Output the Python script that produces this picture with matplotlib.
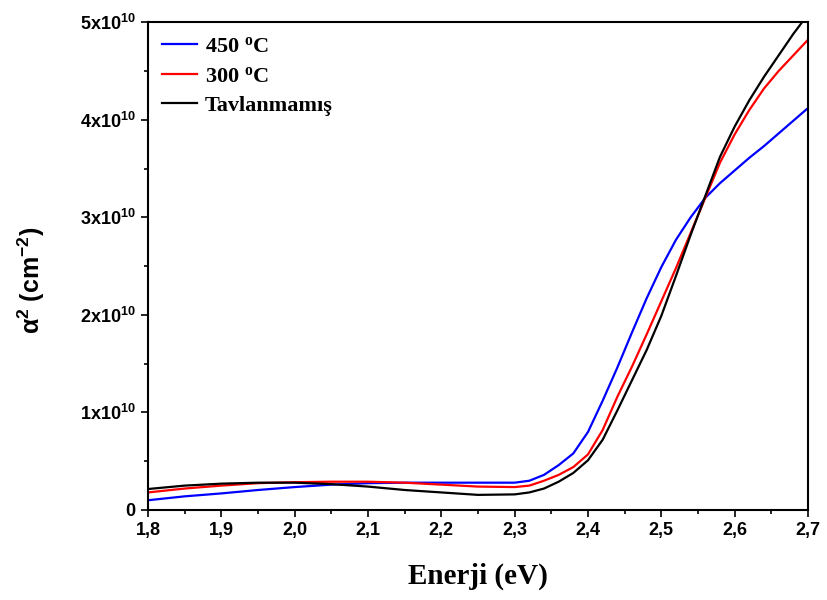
import matplotlib
matplotlib.use("Agg")
import matplotlib.pyplot as plt
from matplotlib.ticker import MultipleLocator, FuncFormatter
import numpy as np

energy = [1.80, 1.85, 1.90, 1.95, 2.00, 2.05, 2.10, 2.15, 2.20, 2.25, 2.30, 2.32, 2.34,
          2.36, 2.38, 2.40, 2.42, 2.44, 2.46, 2.48, 2.50, 2.52, 2.54, 2.56, 2.58, 2.60,
          2.62, 2.64, 2.66, 2.68, 2.70]

a450 = [0.10, 0.14, 0.17, 0.205, 0.235, 0.26, 0.275, 0.28, 0.28, 0.28, 0.28, 0.30, 0.36,
        0.46, 0.58, 0.80, 1.12, 1.46, 1.82, 2.17, 2.49, 2.77, 3.00, 3.20, 3.35, 3.48,
        3.61, 3.73, 3.86, 3.99, 4.12]

a300 = [0.18, 0.22, 0.25, 0.275, 0.285, 0.29, 0.29, 0.28, 0.26, 0.24, 0.235, 0.25, 0.30,
        0.36, 0.44, 0.57, 0.82, 1.16, 1.47, 1.80, 2.14, 2.48, 2.84, 3.20, 3.56, 3.85,
        4.10, 4.32, 4.50, 4.66, 4.82]

araw = [0.215, 0.25, 0.27, 0.28, 0.28, 0.265, 0.24, 0.205, 0.18, 0.155, 0.16, 0.18, 0.22,
        0.29, 0.38, 0.51, 0.72, 1.02, 1.33, 1.64, 1.99, 2.40, 2.82, 3.22, 3.62, 3.93,
        4.20, 4.44, 4.66, 4.88, 5.08]

labels = ["450 $^{\\mathregular{o}}$C", "300 $^{\\mathregular{o}}$C", "Tavlanmamış"]
colors = ["#0000ff", "#ff0000", "#000000"]

plt.rcParams['mathtext.default'] = 'regular'

fig = plt.figure(figsize=(8.27, 6.0), dpi=100)
ax = fig.add_axes([0.179, 0.15, 0.798, 0.813])

scale = 1e10
for ys, lab, c in zip([a450, a300, araw], labels, colors):
    ax.plot(energy, np.array(ys) * scale, color=c, lw=1.6, label=lab)

ax.set_xlim(1.8, 2.7)
ax.set_ylim(0, 5e10)
ax.xaxis.set_major_locator(MultipleLocator(0.1))
ax.xaxis.set_minor_locator(MultipleLocator(0.05))
ax.yaxis.set_major_locator(MultipleLocator(1e10))
ax.yaxis.set_minor_locator(MultipleLocator(0.5e10))

def yfmt(v, pos):
    n = int(round(v / 1e10))
    if n == 0:
        return "0"
    return r"$\mathregular{%dx10^{10}}$" % n

def xfmt(v, pos):
    return ("%.1f" % v).replace(".", ",")

ax.yaxis.set_major_formatter(FuncFormatter(yfmt))
ax.xaxis.set_major_formatter(FuncFormatter(xfmt))

for lbl in ax.get_xticklabels() + ax.get_yticklabels():
    lbl.set_fontfamily("Liberation Sans")
    lbl.set_fontweight("bold")
    lbl.set_fontsize(13)

ax.tick_params(which="major", direction="out", length=5, width=1.2)
ax.tick_params(which="minor", direction="out", length=3, width=1.2)
ax.tick_params(axis="y", which="major", pad=4)
ax.tick_params(axis="x", which="major", pad=4)
for s in ax.spines.values():
    s.set_linewidth(1.5)

ax.set_xlabel("Enerji (eV)", fontfamily="Liberation Serif", fontweight="bold", fontsize=21, labelpad=17)
ax.set_ylabel(r"$\alpha^2$ (cm$^{-2}$)", fontfamily="Liberation Sans", fontweight="bold", fontsize=18)
ax.yaxis.set_label_coords(-0.153, 0.471)

leg = ax.legend(loc="upper left", frameon=False, prop=dict(family="Liberation Serif", weight="bold", size=16),
                handlelength=1.55, borderaxespad=0.25, labelspacing=0.4, handletextpad=0.36,
                borderpad=0.4)

fig.savefig("out.png", dpi=100)
